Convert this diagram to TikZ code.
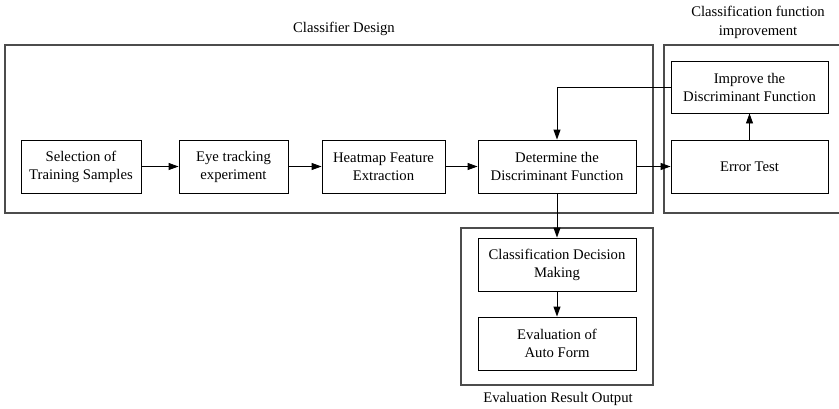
\documentclass[tikz,border=0pt]{standalone}
\usepackage{fontspec}
\setmainfont{Liberation Serif}
\usetikzlibrary{arrows.meta}

\tikzset{
  blk/.style={draw, line width=0.9pt, align=center, inner sep=2pt,
    minimum height=53pt, font=\fontsize{14.7}{18}\selectfont},
  grp/.style={draw=black!70, line width=1.1pt},
  lbl/.style={align=center, font=\fontsize{14.7}{19}\selectfont},
  arr/.style={-{Triangle[length=10pt,width=7pt]}, line width=0.9pt}
}

\begin{document}
\begin{tikzpicture}[x=1pt, y=-1pt]
        \useasboundingbox (0,0) rectangle (839,408);

        % groups
        \draw[grp] (5,45) rectangle (653,213);
        \draw[grp] (845,45) -- (664,45) -- (664,213) -- (845,213);
        \draw[grp] (461,228) rectangle (653,385);
        \node[lbl] (CD) at (344,29) {Classifier Design};
        \node[lbl] (CFI) at (758,22.5) {Classification function\\improvement};
        \node[lbl] (ERO) at (558,399) {Evaluation Result Output};

        \node[blk, minimum width=120pt] (S) at (81,166.5) {Selection of\\Training Samples};
        \node[blk, minimum width=109pt] (E) at (233.5,166.5) {Eye tracking\\experiment};
        \node[blk, minimum width=123pt] (H) at (383.5,166.5) {Heatmap Feature\\Extraction};
        \node[blk, minimum width=158pt] (D) at (557,166.5) {Determine the\\Discriminant Function};
        \node[blk, minimum width=157pt] (ET) at (749.5,166.5) {Error Test};
        \node[blk, minimum width=157pt, minimum height=52pt] (I) at (749.5,87) {Improve the\\Discriminant Function};
        \node[blk, minimum width=158pt] (C) at (557,264.5) {Classification Decision\\Making};
        \node[blk, minimum width=158pt] (A) at (557,343.5) {Evaluation of\\Auto Form};

        \draw[arr] (S) to (E);
        \draw[arr] (E) to (H);
        \draw[arr] (H) to (D);
        \draw[arr] (D) to (ET);
        \draw[arr] (ET) to (I);
        \draw[arr] (I.west) -| (D.north);
        \draw[arr] (D) to (C);
        \draw[arr] (C) to (A);
      \end{tikzpicture}
\end{document}
